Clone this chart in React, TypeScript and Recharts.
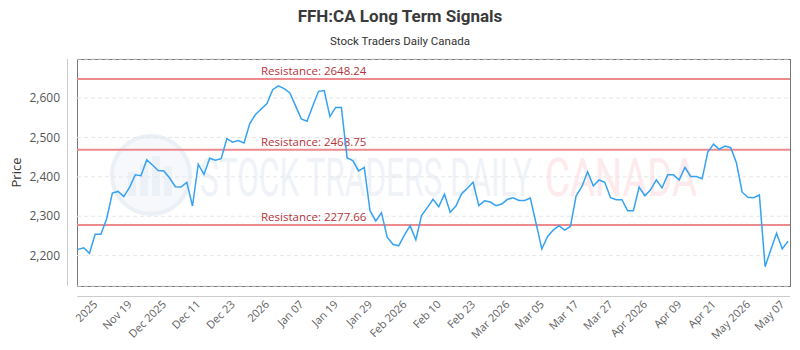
import React from 'react';
import { LineChart, Line, XAxis, YAxis, CartesianGrid, ReferenceLine } from 'recharts';

// daily closes, Nov 2025 - May 2026
const prices = [
  2216, 2220, 2206, 2254, 2254, 2293, 2359, 2363, 2350, 2373,
  2405, 2403, 2443, 2430, 2416, 2415, 2397, 2375, 2374, 2386,
  2326, 2432, 2406, 2447, 2442, 2446, 2497, 2488, 2492, 2486,
  2535, 2558, 2572, 2586, 2621, 2631, 2624, 2613, 2580, 2547,
  2541, 2580, 2617, 2619, 2553, 2576, 2576, 2448, 2441, 2415,
  2424, 2314, 2288, 2309, 2247, 2229, 2225, 2252, 2276, 2240,
  2302, 2322, 2343, 2324, 2356, 2310, 2326, 2357, 2371, 2386,
  2327, 2339, 2336, 2327, 2331, 2343, 2347, 2340, 2340, 2346,
  2282, 2217, 2248, 2265, 2276, 2265, 2274, 2352, 2375, 2413,
  2377, 2392, 2386, 2347, 2342, 2342, 2314, 2314, 2374, 2352,
  2367, 2392, 2372, 2405, 2405, 2392, 2424, 2401, 2401, 2395,
  2463, 2483, 2470, 2478, 2474, 2435, 2361, 2348, 2347, 2354,
  2172, 2215, 2257, 2217, 2237,
];

const tickLabels = [
  '2025', 'Nov 19', 'Dec 2025', 'Dec 11', 'Dec 23', '2026', 'Jan 07',
  'Jan 19', 'Jan 29', 'Feb 2026', 'Feb 10', 'Feb 23', 'Mar 2026', 'Mar 05',
  'Mar 17', 'Mar 27', 'Apr 2026', 'Apr 09', 'Apr 21', 'May 2026', 'May 07',
];
const tickIndex = [3, 9, 15, 21, 27, 33, 39, 45, 51, 57, 63, 69, 75, 81, 87, 93, 99, 105, 111, 117, 123];

const resistances = [2648.24, 2468.75, 2277.66];
const yTicks = [2200, 2300, 2400, 2500, 2600];

const data = prices.map((price, i) => ({ i, price }));

const W = 800;
const H = 350;
const PLOT_LEFT = 77;
const PLOT_TOP = 59;
const PLOT_RIGHT = 790;
const PLOT_BOTTOM = 286;

const XTick = (props: any) => {
  const { x, y, payload } = props;
  const k = tickIndex.indexOf(payload.value);
  const tx = x + 3;
  const ty = y + 19;
  return (
    <text
      x={tx}
      y={ty}
      transform={`rotate(-45, ${tx}, ${ty})`}
      textAnchor="end"
      fontSize={11}
      fontFamily="'Open Sans', sans-serif"
      fill="#606060"
    >
      {tickLabels[k]}
    </text>
  );
};

const YTick = (props: any) => {
  const { x, y, payload } = props;
  return (
    <text x={x - 17} y={y} dy="0.35em" textAnchor="end" fontSize={12} fontFamily="'Open Sans', sans-serif" fill="#555">
      {payload.value.toLocaleString('en-US')}
    </text>
  );
};

const Background = () => (
  <svg width={W} height={H} style={{ position: 'absolute', left: 0, top: 0 }}>
    <text x={400} y={22} textAnchor="middle" fontSize={17} fontWeight="bold" fontFamily="Roboto, sans-serif" fill="#3a3a3a">
      FFH:CA Long Term Signals
    </text>
    <text x={400} y={45} textAnchor="middle" fontSize={11.5} fontFamily="Roboto, sans-serif" fill="#333">
      Stock Traders Daily Canada
    </text>
    {/* watermark */}
    <g opacity={0.75}>
      <circle cx={151} cy={175} r={39} fill="#f3f6fa" stroke="#e4ebf3" strokeWidth={4} />
      <rect x={128} y={172} width={8} height={24} fill="#e6edf5" />
      <rect x={140} y={164} width={8} height={32} fill="#e6edf5" />
      <rect x={152} y={156} width={8} height={40} fill="#e6edf5" />
      <rect x={164} y={166} width={8} height={30} fill="#e6edf5" />
      <text x={200} y={196} fontSize={54} fontFamily="Roboto, sans-serif" fill="#eaeff6" textLength={332} lengthAdjust="spacingAndGlyphs">
        STOCK TRADERS DAILY
      </text>
      <text x={545} y={196} fontSize={54} fontFamily="Roboto, sans-serif" fill="#fde3e6" textLength={152} lengthAdjust="spacingAndGlyphs">
        CANADA
      </text>
    </g>
    <rect x={PLOT_LEFT + 0.5} y={PLOT_TOP + 0.5} width={PLOT_RIGHT - PLOT_LEFT} height={PLOT_BOTTOM - PLOT_TOP} fill="none" stroke="#777" />
    <line x1={67.5} y1={PLOT_TOP} x2={67.5} y2={PLOT_BOTTOM} stroke="#ccc" />
    <line x1={PLOT_LEFT} y1={296.5} x2={PLOT_RIGHT} y2={296.5} stroke="#ccc" />
  </svg>
);

export default function App() {
  return (
    <div style={{ position: 'relative', width: W, height: H, background: '#fff' }}>
      <style>{'body{margin:0}'}</style>
      <Background />
      <div style={{ position: 'absolute', left: 0, top: 0 }}>
        <LineChart
          width={W}
          height={H}
          data={data}
          margin={{ top: PLOT_TOP, right: W - PLOT_RIGHT, bottom: 0, left: 0 }}
        >
          <CartesianGrid vertical={false} stroke="#e6e6e6" strokeDasharray="4 3" />
          <XAxis
            type="number"
            dataKey="i"
            domain={[0, prices.length - 1]}
            ticks={tickIndex}
            interval={0}
            height={H - PLOT_BOTTOM}
            axisLine={false}
            tickLine={false}
            tickSize={0}
            tickMargin={0}
            padding={{ left: 1, right: 2 }}
            tick={<XTick />}
          />
          <YAxis
            domain={[2123, 2699]}
            ticks={yTicks}
            width={PLOT_LEFT}
            axisLine={false}
            tickLine={false}
            tickSize={0}
            tickMargin={0}
            tick={<YTick />}
            label={({ viewBox }: any) => (
              <text
                x={16}
                y={viewBox.y + viewBox.height / 2}
                transform={`rotate(-90, 16, ${viewBox.y + viewBox.height / 2})`}
                textAnchor="middle"
                dominantBaseline="central"
                fontSize={13}
                fontFamily="'Open Sans', sans-serif"
                fill="#333"
              >
                Price
              </text>
            )}
          />
          {resistances.map((r) => (
            <ReferenceLine
              key={r}
              y={r}
              stroke="#ec8a8e"
              strokeWidth={2}
              label={({ viewBox }: any) => (
                <text x={viewBox.x + 184} y={viewBox.y - 4} fontSize={11.5} fontFamily="'Open Sans', sans-serif" fill="#b2353b">
                  {`Resistance: ${r.toFixed(2)}`}
                </text>
              )}
            />
          ))}
          <Line
            type="linear"
            dataKey="price"
            stroke="#35a2f4"
            strokeWidth={1.5}
            dot={false}
            isAnimationActive={false}
          />
        </LineChart>
      </div>
    </div>
  );
}
